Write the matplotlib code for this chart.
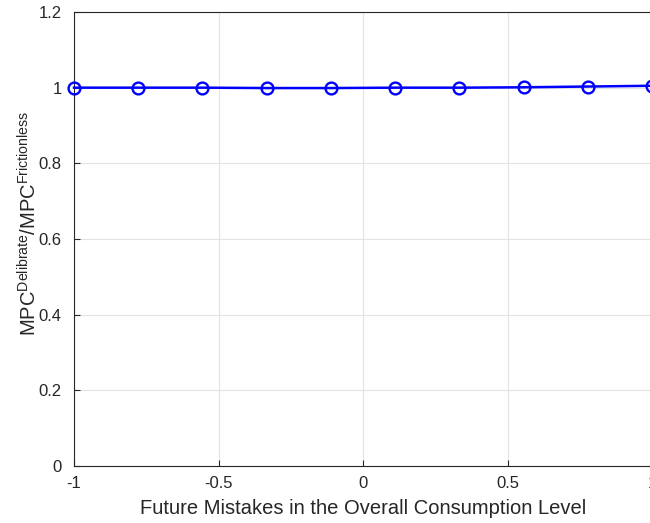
import numpy as np
import matplotlib
matplotlib.use("Agg")
import matplotlib.pyplot as plt

# future mistakes in consumption level vs MPC ratio
mistakes = [-1.0, -0.7778, -0.5556, -0.3333, -0.1111, 0.1111, 0.3333, 0.5556, 0.7778, 1.0]
mpc_ratio = [1.000, 1.000, 1.000, 0.999, 0.999, 1.000, 1.000, 1.001, 1.003, 1.005]

xticks = [-1, -0.5, 0, 0.5, 1]
xticklabels = ["-1", "-0.5", "0", "0.5", "1"]
yticks = [0, 0.2, 0.4, 0.6, 0.8, 1.0, 1.2]
yticklabels = ["0", "0.2", "0.4", "0.6", "0.8", "1", "1.2"]

plt.rcParams.update({
    "font.family": ["Liberation Sans", "DejaVu Sans"],
    "mathtext.fontset": "custom",
    "mathtext.rm": "Liberation Sans",
    "mathtext.it": "Liberation Sans:italic",
})

axis_color = "#262626"

fig = plt.figure(figsize=(6.5, 5.23), dpi=100)
ax = fig.add_axes([74 / 650, 57 / 523, 578 / 650, 454 / 523])

ax.plot(mistakes, mpc_ratio, color="blue", linewidth=1.8, marker="o",
        markersize=8.5, markerfacecolor="none", markeredgewidth=1.7,
        clip_on=False, zorder=5)

ax.set_xlim(-1, 1)
ax.set_ylim(0, 1.2)
ax.set_xticks(xticks)
ax.set_xticklabels(xticklabels)
ax.set_yticks(yticks)
ax.set_yticklabels(yticklabels)

ax.grid(True, color="#e3e3e3", linewidth=0.8)
ax.set_axisbelow(True)
ax.tick_params(direction="in", length=4, width=0.8, colors=axis_color,
               labelsize=12, top=False, right=False)
ax.tick_params(axis="x", pad=7)
ax.tick_params(axis="y", pad=9)
for side in ["left", "bottom", "top", "right"]:
    ax.spines[side].set_color(axis_color)
    ax.spines[side].set_linewidth(0.8)

ax.set_xlabel("Future Mistakes in the Overall Consumption Level",
              fontsize=14.5, color=axis_color, labelpad=6)
ax.set_ylabel(r"MPC$^{\mathrm{Delibrate}}$/MPC$^{\mathrm{Frictionless}}$",
              fontsize=14.5, color=axis_color)
ax.yaxis.set_label_coords(-0.058, 0.535)

fig.savefig("out.png", dpi=100)
